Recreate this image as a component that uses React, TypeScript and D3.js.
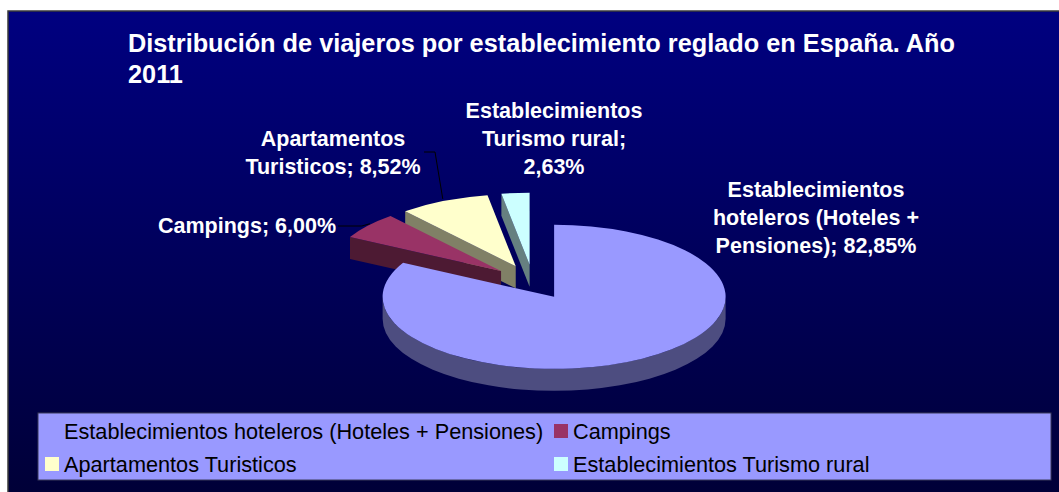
import * as d3 from 'd3'

const categories = [
  'Establecimientos hoteleros (Hoteles + Pensiones)',
  'Campings',
  'Apartamentos Turisticos',
  'Establecimientos Turismo rural',
]
const values = [82.85, 6.0, 8.52, 2.63]
const colors = ['#9999FF', '#993366', '#FFFFCC', '#CCFFFF']
// label text lines, value appended to the last line
const labelLines = [
  ['Establecimientos', 'hoteleros (Hoteles +', 'Pensiones);'],
  ['Campings;'],
  ['Apartamentos', 'Turisticos;'],
  ['Establecimientos', 'Turismo rural;', ''],
]
const titleLines = ['Distribución de viajeros por establecimiento reglado en España. Año', '2011']

const W = 1059
const H = 492
const FONT = '"Liberation Sans", Arial, sans-serif'

// pie geometry
const cx = 533
const cy = 282
const rx = 171.5
const ry = 72
const depth = 22
const explode = 0.24

// label placement (layout only)
const labelPos = [
  { x: 816, y: 197, anchor: 'middle' },
  { x: 336, y: 233, anchor: 'end' },
  { x: 333, y: 146, anchor: 'middle' },
  { x: 554, y: 118, anchor: 'middle' },
]
const lineH = 28

const fmt = (v: number) => d3.format('.2f')(v).replace('.', ',') + '%'

type P = [number, number]

function shade(c: string, k: number) {
  const r = d3.rgb(c)
  return d3.rgb(r.r * k, r.g * k, r.b * k).formatHex()
}

export default function App() {
  const arcs = d3.pie<number>().sort(null).value(d => d)(values)

  const slices = arcs.map((a, i) => {
    const mid = (a.startAngle + a.endAngle) / 2
    const c: P = [cx + explode * rx * Math.sin(mid), cy - explode * ry * Math.cos(mid)]
    const pt = (t: number, dy = 0): P => [c[0] + rx * Math.sin(t), c[1] - ry * Math.cos(t) + dy]
    const s = a.startAngle
    const e = a.endAngle
    const large = e - s > Math.PI ? 1 : 0
    const top = `M${c[0]},${c[1]}L${pt(s)}A${rx},${ry} 0 ${large} 1 ${pt(e)}Z`
    const faces: string[] = []
    if (Math.sin(s) < -1e-6) {
      faces.push(`M${c}L${pt(s)}L${pt(s, depth)}L${c[0]},${c[1] + depth}Z`)
    }
    if (Math.sin(e) > 1e-6) {
      faces.push(`M${c}L${pt(e)}L${pt(e, depth)}L${c[0]},${c[1] + depth}Z`)
    }
    let wall = ''
    const t1 = Math.max(s, Math.PI / 2)
    const t2 = Math.min(e, (3 * Math.PI) / 2)
    if (t2 > t1) {
      const lg = t2 - t1 > Math.PI + 1e-6 ? 1 : 0
      wall = `M${pt(t1)}A${rx},${ry} 0 ${lg} 1 ${pt(t2)}L${pt(t2, depth)}A${rx},${ry} 0 ${lg} 0 ${pt(t1, depth)}Z`
    }
    return { i, c, top, faces, wall, outer: pt(mid), color: colors[i] }
  })

  // back to front
  const order = [...slices].sort((a, b) => a.c[1] - b.c[1])

  const legendX = 38
  const legendY = 413
  const legendW = 1013
  const legendH = 67
  const colX = [45, 554]
  const rowY = [431, 464]

  return (
    <svg width={W} height={H} style={{ position: 'absolute', left: 0, top: 0 }} fontFamily={FONT}>
      <defs>
        <linearGradient id="bg" x1="0" y1="0" x2="0" y2="1">
          <stop offset="0%" stopColor="#000080" />
          <stop offset="100%" stopColor="#000036" />
        </linearGradient>
      </defs>
      <rect x={0} y={0} width={W} height={H} fill="#fff" />
      <rect x={8} y={11} width={W} height={H} fill="url(#bg)" stroke="#3a3a3a" strokeWidth={1.5} />

      {titleLines.map((t, k) => (
        <text key={k} x={128} y={52 + k * 31} fill="#fff" fontSize={25.3} fontWeight="bold">
          {t}
        </text>
      ))}

      {order.map(s => (
        <g key={s.i}>
          {s.faces.map((f, k) => (
            <path key={k} d={f} fill={shade(s.color, 0.5)} />
          ))}
          {s.wall && <path d={s.wall} fill={shade(s.color, 0.5)} />}
          <path d={s.top} fill={s.color} />
        </g>
      ))}

      {/* leader lines */}
      {[1, 2].map(i => {
        const lp = labelPos[i]
        const o = slices[i].outer
        const pts: P[] =
          i === 1
            ? [[lp.x + 2, lp.y - 7], [o[0] - 6, lp.y - 7], [o[0] + 2, o[1] - 2]]
            : [[lp.x + 91, lp.y + 6], [lp.x + 102, lp.y + 6], [o[0] - 1, o[1] - 2]]
        return <path key={i} d={d3.line()(pts) || ''} fill="none" stroke="#000" strokeWidth={1} />
      })}

      {slices.map(s => {
        const lp = labelPos[s.i]
        const lines = labelLines[s.i].slice()
        const last = lines.length - 1
        lines[last] = lines[last] ? `${lines[last]} ${fmt(values[s.i])}` : fmt(values[s.i])
        return (
          <text key={s.i} fill="#fff" fontSize={21.5} fontWeight="bold" textAnchor={lp.anchor}>
            {lines.map((l, k) => (
              <tspan key={k} x={lp.x} y={lp.y + k * lineH}>
                {l}
              </tspan>
            ))}
          </text>
        )
      })}

      <rect x={legendX} y={legendY} width={legendW} height={legendH} fill="#9999FF" stroke="#3a3a5a" strokeWidth={1} />
      {categories.map((c, i) => {
        const x = colX[i % 2]
        const y = rowY[Math.floor(i / 2)]
        return (
          <g key={i}>
            <rect x={x} y={y - 7} width={14} height={14} fill={colors[i]} />
            <text x={x + 19} y={y} dy="0.35em" fontSize={21.7} fill="#000">
              {c}
            </text>
          </g>
        )
      })}
    </svg>
  )
}
